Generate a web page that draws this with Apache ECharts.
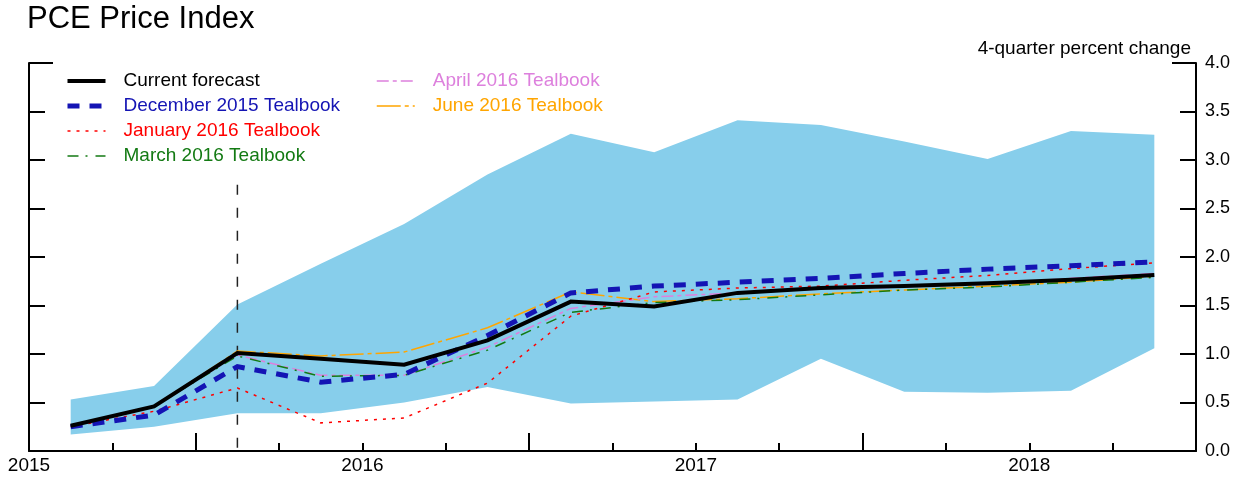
<!DOCTYPE html>
<html><head><meta charset="utf-8">
<script src="https://cdn.jsdelivr.net/npm/echarts@6/dist/echarts.min.js"></script>
<style>html,body{margin:0;padding:0;background:#fff}#c{width:1244px;height:478px}</style>
</head><body><div id="c"></div>
<script>
const quarters = ['2015Q1','2015Q2','2015Q3','2015Q4','2016Q1','2016Q2','2016Q3','2016Q4','2017Q1','2017Q2','2017Q3','2017Q4','2018Q1','2018Q2'];
const bandTop    = [0.53, 0.67, 1.51, 1.93, 2.34, 2.85, 3.27, 3.08, 3.41, 3.36, 3.19, 3.01, 3.30, 3.26];
const bandBottom = [0.17, 0.25, 0.39, 0.39, 0.50, 0.66, 0.49, 0.51, 0.53, 0.95, 0.61, 0.60, 0.62, 1.06];
const current  = [0.26, 0.46, 1.01, 0.95, 0.89, 1.14, 1.54, 1.49, 1.63, 1.68, 1.70, 1.73, 1.765, 1.815];
const dec2015  = [0.25, 0.37, 0.87, 0.71, 0.79, 1.19, 1.63, 1.70, 1.74, 1.78, 1.83, 1.875, 1.91, 1.95];
const jan2016  = [0.25, 0.41, 0.65, 0.29, 0.34, 0.70, 1.39, 1.64, 1.68, 1.70, 1.76, 1.81, 1.88, 1.94];
const mar2016  = [0.26, 0.46, 0.98, 0.77, 0.78, 1.04, 1.43, 1.53, 1.56, 1.61, 1.66, 1.69, 1.74, 1.79];
const apr2016  = [0.26, 0.46, 0.99, 0.78, 0.78, 1.07, 1.47, 1.59, 1.63, 1.67, 1.69, 1.72, 1.78, 1.83];
const jun2016  = [0.26, 0.46, 1.03, 0.98, 1.02, 1.27, 1.64, 1.54, 1.57, 1.62, 1.66, 1.70, 1.74, 1.80];
const yearLabels = [2015, 2016, 2017, 2018];
const yTicks = [0, 0.5, 1, 1.5, 2, 2.5, 3, 3.5, 4];
const forecastStart = '2015Q3';
const forecastLineTop = 2.745;

const FONT = 'Liberation Sans, Arial, sans-serif';
const xPos = quarters.map(q => +q.slice(0,4) + (+q.slice(5) - 1) * 0.25 + 0.125);
const pairs = arr => arr.map((v, i) => [xPos[i], v]);
const quarterTicks = [], midYearTicks = [];
for (let y = 2015.25; y < 2018.5; y += 0.25) {
  if (Math.abs((y % 1) - 0.5) < 1e-9) midYearTicks.push(y); else quarterTicks.push(y);
}
const vX = xPos[quarters.indexOf(forecastStart)];

const colors = {cur:'#000000', dec:'#1414B4', jan:'#FF0000', mar:'#137A13', apr:'#DD80DD', jun:'#FFA500'};
const names = {cur:'Current forecast', dec:'December 2015 Tealbook', jan:'January 2016 Tealbook', mar:'March 2016 Tealbook', apr:'April 2016 Tealbook', jun:'June 2016 Tealbook'};
const widths = {cur: 4, dec: 5, jan: 1.5, mar: 1.5, apr: 1.5, jun: 1.5};
const dashes = {cur: 'solid', dec: [12, 10], jan: [3, 6], mar: [11, 7, 2, 8], apr: [12, 4, 4, 4], jun: [24, 4, 4, 4]};

function lineSeries(key, data, z) {
  return {
    name: names[key], type: 'line', data: pairs(data), symbol: 'none', z: z,
    xAxisIndex: 0, yAxisIndex: 0, silent: true, animation: false,
    lineStyle: {color: colors[key], width: widths[key], type: dashes[key], cap: 'butt', join: 'miter'},
    itemStyle: {color: colors[key]}
  };
}

const axisBase = {type: 'value', splitLine: {show: false}, axisPointer: {show: false}};

const legendCommon = {
  orient: 'vertical', padding: 0, itemGap: 5, itemWidth: 38, itemHeight: 20, selectedMode: false,
  itemStyle: {opacity: 0}
};
const legendItem = k => ({
  name: names[k], textStyle: {color: colors[k]},
  lineStyle: {width: widths[k], type: dashes[k], color: colors[k], cap: 'butt'}
});

const chart = echarts.init(document.getElementById('c'), null, {renderer: 'canvas'});
chart.setOption({
  animation: false,
  backgroundColor: '#fff',
  title: [
    {text: 'PCE Price Index', left: 27, top: 4, padding: 0,
     textStyle: {fontSize: 31, fontWeight: 'normal', color: '#000', fontFamily: FONT}},
    {text: '4-quarter percent change', right: 53, top: 39, padding: 0,
     textStyle: {fontSize: 19, fontWeight: 'normal', color: '#000', fontFamily: FONT}}
  ],
  grid: [
    {left: 29, right: 48, top: 63, bottom: 27, containLabel: false, outerBoundsMode: 'none'},
    {left: 29, right: 48, top: 63, bottom: 27, containLabel: false, outerBoundsMode: 'none'}
  ],
  legend: [
    Object.assign({}, legendCommon, {left: 65, top: 71,
     textStyle: {fontSize: 19, fontFamily: FONT, lineHeight: 20, padding: [0,0,0,13]},
     data: ['cur','dec','jan','mar'].map(legendItem)}),
    Object.assign({}, legendCommon, {left: 376, top: 71,
     textStyle: {fontSize: 19, fontFamily: FONT, lineHeight: 20, padding: [0,0,0,13]},
     data: ['apr','jun'].map(legendItem)})
  ],
  xAxis: [
    Object.assign({}, axisBase, {gridIndex: 0, min: 2015, max: 2018.5, position: 'bottom',
      axisLine: {show: true, onZero: false, lineStyle: {color: '#000', width: 2}},
      axisTick: {show: true, inside: true, length: 8, customValues: quarterTicks, lineStyle: {color: '#000', width: 2}},
      axisLabel: {show: true, customValues: yearLabels, margin: 5, color: '#000', fontSize: 19, fontFamily: FONT,
                  formatter: v => String(Math.round(v))}}),
    Object.assign({}, axisBase, {gridIndex: 1, min: 2015, max: 2018.5, position: 'bottom',
      axisLine: {show: false, onZero: false},
      axisTick: {show: true, inside: true, length: 18, customValues: midYearTicks, lineStyle: {color: '#000', width: 2}},
      axisLabel: {show: false}})
  ],
  yAxis: [
    Object.assign({}, axisBase, {gridIndex: 0, min: 0, max: 4, position: 'left',
      axisLine: {show: true, onZero: false, lineStyle: {color: '#000', width: 2}},
      axisTick: {show: true, inside: true, length: 16, customValues: yTicks.slice(1, -1), lineStyle: {color: '#000', width: 2}},
      axisLabel: {show: false}}),
    Object.assign({}, axisBase, {gridIndex: 0, min: 0, max: 4, position: 'right',
      axisLine: {show: true, onZero: false, lineStyle: {color: '#000', width: 2}},
      axisTick: {show: true, inside: true, length: 16, customValues: yTicks.slice(1, -1), lineStyle: {color: '#000', width: 2}},
      axisLabel: {show: true, customValues: yTicks, margin: 9, color: '#000', fontSize: 18, fontFamily: FONT,
                  formatter: v => v.toFixed(1)}}),
    Object.assign({}, axisBase, {gridIndex: 1, min: 0, max: 4, position: 'left',
      axisLine: {show: false, onZero: false},
      axisTick: {show: true, inside: true, length: 24, customValues: [yTicks[yTicks.length-1]], lineStyle: {color: '#000', width: 2}},
      axisLabel: {show: false}}),
    Object.assign({}, axisBase, {gridIndex: 1, min: 0, max: 4, position: 'right',
      axisLine: {show: false, onZero: false},
      axisTick: {show: true, inside: true, length: 24, customValues: [yTicks[yTicks.length-1]], lineStyle: {color: '#000', width: 2}},
      axisLabel: {show: false}})
  ],
  series: [
    {
      type: 'custom', name: 'band', xAxisIndex: 0, yAxisIndex: 0, silent: true, z: 1, clip: false,
      data: xPos.map((x, i) => [x, bandBottom[i], bandTop[i]]),
      encode: {x: 0, y: [1, 2]},
      renderItem: (params, api) => {
        if (params.dataIndex !== 0) return null;
        const pts = [];
        for (let i = 0; i < xPos.length; i++) pts.push(api.coord([xPos[i], bandTop[i]]));
        for (let i = xPos.length - 1; i >= 0; i--) pts.push(api.coord([xPos[i], bandBottom[i]]));
        return {type: 'polygon', shape: {points: pts}, style: {fill: '#87CEEB', stroke: null}};
      }
    },
    {
      type: 'line', name: 'forecastStart', xAxisIndex: 0, yAxisIndex: 0, silent: true, z: 2, symbol: 'none',
      data: [[vX, forecastLineTop], [vX, 0]],
      lineStyle: {color: '#222', width: 1.5, type: [10, 13]}
    },
    lineSeries('jun', jun2016, 3),
    lineSeries('apr', apr2016, 4),
    lineSeries('mar', mar2016, 5),
    lineSeries('jan', jan2016, 6),
    lineSeries('dec', dec2015, 7),
    lineSeries('cur', current, 8)
  ]
});
</script></body></html>
